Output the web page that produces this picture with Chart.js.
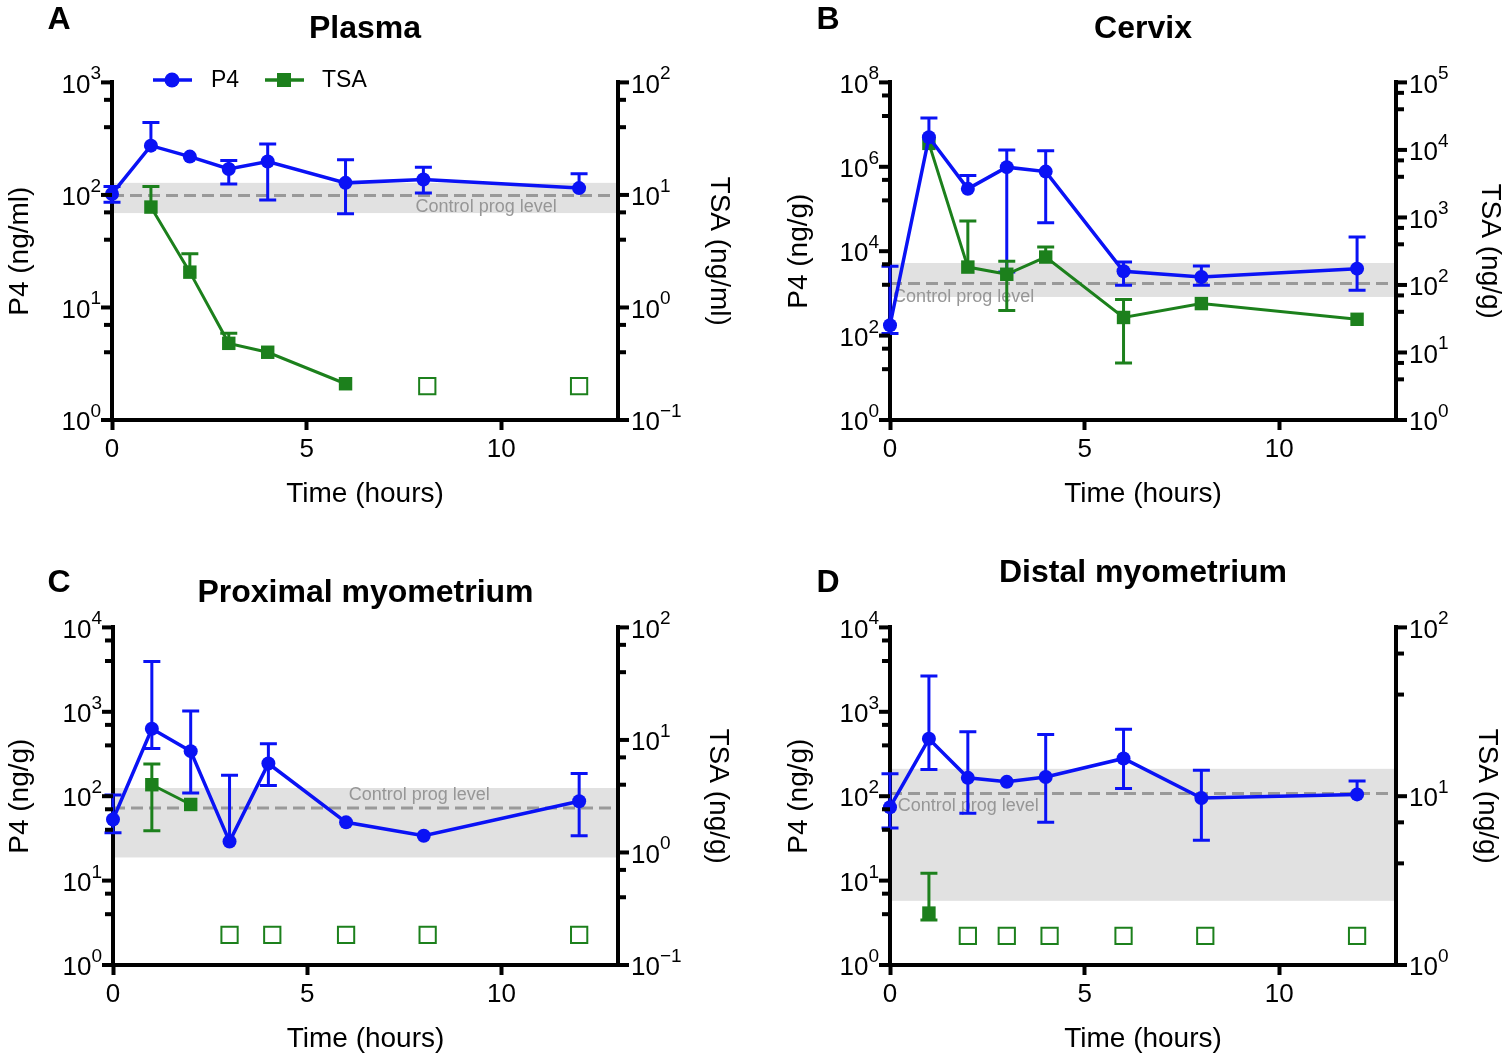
<!DOCTYPE html>
<html>
<head>
<meta charset="utf-8">
<script src="https://cdn.jsdelivr.net/npm/chart.js@4.4.1/dist/chart.umd.min.js"></script>
<style>
  body { margin: 0; background: #fff; width: 1508px; height: 1062px; position: relative; overflow: hidden; }
  canvas { position: absolute; }
</style>
</head>
<body>
<canvas id="panelA" width="754" height="531" style="left:0;top:0"></canvas>
<canvas id="panelB" width="754" height="531" style="left:754px;top:0"></canvas>
<canvas id="panelC" width="754" height="531" style="left:0;top:531px"></canvas>
<canvas id="panelD" width="754" height="531" style="left:754px;top:531px"></canvas>
<script>
// Time points (hours) for P4
const p4Hours = [0, 1, 2, 3, 4, 6, 8, 12];

// A - Plasma
const plasmaP4 = [102, 274, 219, 170, 198, 128, 137, 115];
const plasmaP4Hi = [119, 441, null, 202, 284, 205, 176, 154];
const plasmaP4Lo = [86, null, null, 125, 90, 68, 104, null];
const plasmaTsaHours = [1, 2, 3, 4, 6];
const plasmaTsa = [7.8, 2.06, 0.48, 0.40, 0.21];
const plasmaTsaHi = [11.9, 3.0, 0.59, null, null];
const plasmaTsaLo = [null, null, null, null, null];
const plasmaNdHours = [8.1, 12];
const plasmaNdLevel = 0.2;
const plasmaControl = [69, 99, 128]; // band low, level, band high
const plasmaLeftExp = [0, 1, 2, 3];
const plasmaRightExp = [-1, 0, 1, 2];

// B - Cervix
const cervixP4 = [176, 5.0e6, 3.0e5, 9.8e5, 7.7e5, 3340, 2450, 3860];
const cervixP4Hi = [4380, 1.44e7, 6.2e5, 2.5e6, 2.4e6, 5540, 4470, 21600];
const cervixP4Lo = [112, null, null, 3200, 47000, 1550, 1550, 1190];
const cervixTsaHours = [1, 2, 3, 4, 6, 8, 12];
const cervixTsa = [12500, 184, 144, 259, 33, 53, 31];
const cervixTsaHi = [null, 883, 224, 364, 61, null, null];
const cervixTsaLo = [null, null, 42, null, 7.0, null, null];
const cervixNdHours = [];
const cervixNdLevel = 1;
const cervixControl = [824, 1710, 5250];
const cervixLeftExp = [0, 2, 4, 6, 8];
const cervixRightExp = [0, 1, 2, 3, 4, 5];

// C - Proximal myometrium
const proxP4 = [53, 630, 342, 29, 244, 49, 34, 87];
const proxP4Hi = [103, 3940, 1023, 177, 418, null, null, 186];
const proxP4Lo = [37, 368, 109, null, 134, null, null, 34];
const proxTsaHours = [1, 2];
const proxTsa = [4.0, 2.67];
const proxTsaHi = [6.1, null];
const proxTsaLo = [1.56, null];
const proxNdHours = [3, 4.1, 6, 8.1, 12];
const proxNdLevel = 0.185;
const proxControl = [18.8, 72.6, 125];
const proxLeftExp = [0, 1, 2, 3, 4];
const proxRightExp = [-1, 0, 1, 2];

// D - Distal myometrium
const distP4 = [74, 479, 165, 148, 169, 280, 95, 105];
const distP4Hi = [184, 2660, 580, null, 540, 620, 203, 151];
const distP4Lo = [42, 207, 63, null, 49, 123, 30, null];
const distTsaHours = [1];
const distTsa = [2.03];
const distTsaHi = [3.5];
const distTsaLo = [1.85];
const distNdHours = [2, 3, 4.1, 6, 8.1, 12];
const distNdLevel = 1.49;
const distControl = [5.76, 108, 211];
const distLeftExp = [0, 1, 2, 3, 4];
const distRightExp = [0, 1, 2];

// Colours & fonts
const FONT = '"Liberation Sans", Arial, Helvetica, sans-serif';
const BLUE = 'rgb(10, 18, 245)';
const GREEN = 'rgb(28, 128, 28)';
const BAND = '#e1e1e1';
const DASH = '#999999';
const CTRL_TEXT = '#969696';

Chart.defaults.font.family = FONT;
Chart.defaults.color = '#000';

const toXY = (xs, ys) => xs.map((x, i) => ({ x: x, y: ys[i] }));
const supText = e => (e < 0 ? '\u2212' + Math.abs(e) : String(e));

// draw log axis ticks + "10^n" labels using the scale
function drawLogAxis(chart, scaleId, exps, side) {
    const ctx = chart.ctx;
    const s = chart.scales[scaleId];
    const x0 = side === 'left' ? chart.chartArea.left : chart.chartArea.right;
    const dir = side === 'left' ? -1 : 1;
    const step = exps[1] - exps[0];

    const tick = (y, len) => {
        ctx.beginPath();
        ctx.moveTo(x0, y);
        ctx.lineTo(x0 + dir * len, y);
        ctx.stroke();
    };

    ctx.save();
    ctx.strokeStyle = '#000';
    ctx.lineWidth = 4;
    ctx.fillStyle = '#000';
    exps.forEach((e, k) => {
        const y = s.getPixelForValue(Math.pow(10, e));
        tick(y, 11);
        if (k < exps.length - 1) {
            [Math.log10(4), Math.log10(7)].forEach(f => {
                tick(s.getPixelForValue(Math.pow(10, e + step * f)), 8);
            });
        }
        // label
        ctx.font = '26px ' + FONT;
        const wBase = ctx.measureText('10').width;
        ctx.font = '19px ' + FONT;
        const wSup = ctx.measureText(supText(e)).width;
        const xStart = side === 'left' ? x0 - 11 - wBase - wSup : x0 + 13;
        ctx.textAlign = 'left';
        ctx.textBaseline = 'middle';
        ctx.font = '26px ' + FONT;
        ctx.fillText('10', xStart, y + 3);
        ctx.textBaseline = 'alphabetic';
        ctx.font = '19px ' + FONT;
        ctx.fillText(supText(e), xStart + wBase, y - 3);
    });
    ctx.restore();
}

function makePanel(id, cfg) {
    const decor = {
        id: 'decor_' + id,
        beforeDraw(chart) {
            const ctx = chart.ctx;
            const { left, right } = chart.chartArea;
            const y = chart.scales.y;
            const yHi = y.getPixelForValue(cfg.control[2]);
            const yLo = y.getPixelForValue(cfg.control[0]);
            const yMid = y.getPixelForValue(cfg.control[1]);
            ctx.save();
            ctx.fillStyle = BAND;
            ctx.fillRect(left, yHi, right - left, yLo - yHi);
            ctx.strokeStyle = DASH;
            ctx.lineWidth = 3;
            ctx.setLineDash([12, 6]);
            ctx.beginPath();
            ctx.moveTo(left, yMid);
            ctx.lineTo(right, yMid);
            ctx.stroke();
            ctx.setLineDash([]);
            ctx.fillStyle = CTRL_TEXT;
            ctx.font = '18px ' + FONT;
            ctx.textAlign = 'left';
            ctx.textBaseline = 'middle';
            ctx.fillText('Control prog level', chart.scales.x.getPixelForValue(cfg.ctrlLabelAt), yMid + cfg.ctrlLabelDy);
            ctx.restore();
        },
        beforeDatasetsDraw(chart) {
            const ctx = chart.ctx;
            chart.data.datasets.forEach((ds, di) => {
                if (!ds.errHi) return;
                const ys = chart.scales[ds.yAxisID];
                const meta = chart.getDatasetMeta(di);
                ctx.save();
                ctx.strokeStyle = ds.borderColor;
                ctx.lineWidth = 3;
                meta.data.forEach((pt, i) => {
                    [ds.errHi[i], ds.errLo[i]].forEach(v => {
                        if (v == null) return;
                        const yv = ys.getPixelForValue(v);
                        ctx.beginPath();
                        ctx.moveTo(pt.x, pt.y);
                        ctx.lineTo(pt.x, yv);
                        ctx.moveTo(pt.x - 8.5, yv);
                        ctx.lineTo(pt.x + 8.5, yv);
                        ctx.stroke();
                    });
                });
                ctx.restore();
            });
        },
        afterDraw(chart) {
            const ctx = chart.ctx;
            drawLogAxis(chart, 'y', cfg.leftExp, 'left');
            drawLogAxis(chart, 'y2', cfg.rightExp, 'right');

            // panel letter
            ctx.save();
            ctx.fillStyle = '#000';
            ctx.font = 'bold 32px ' + FONT;
            ctx.textAlign = 'center';
            ctx.textBaseline = 'middle';
            ctx.fillText(cfg.letter, cfg.letterPos[0], cfg.letterPos[1]);

            // legend (panel A only)
            if (cfg.legend) {
                const ly = 80;
                ctx.lineWidth = 3.5;
                ctx.strokeStyle = BLUE;
                ctx.beginPath(); ctx.moveTo(153, ly); ctx.lineTo(192, ly); ctx.stroke();
                ctx.fillStyle = BLUE;
                ctx.beginPath(); ctx.arc(172, ly, 7.5, 0, Math.PI * 2); ctx.fill();
                ctx.strokeStyle = GREEN;
                ctx.beginPath(); ctx.moveTo(265, ly); ctx.lineTo(304, ly); ctx.stroke();
                ctx.fillStyle = GREEN;
                ctx.fillRect(284 - 7, ly - 7, 14, 14);
                ctx.fillStyle = '#000';
                ctx.font = '23px ' + FONT;
                ctx.textAlign = 'left';
                ctx.fillText('P4', 211, ly + 1);
                ctx.fillText('TSA', 322, ly + 1);
            }
            ctx.restore();
        }
    };

    return new Chart(document.getElementById(id), {
        type: 'line',
        data: {
            datasets: [
                {
                    label: 'P4',
                    data: toXY(p4Hours, cfg.p4),
                    errHi: cfg.p4Hi,
                    errLo: cfg.p4Lo,
                    yAxisID: 'y',
                    borderColor: BLUE,
                    backgroundColor: BLUE,
                    borderWidth: 3.5,
                    tension: 0,
                    pointStyle: 'circle',
                    pointRadius: 7,
                    pointBorderWidth: 0,
                    clip: false
                },
                {
                    label: 'TSA',
                    data: toXY(cfg.tsaHours, cfg.tsa),
                    errHi: cfg.tsaHi,
                    errLo: cfg.tsaLo,
                    yAxisID: 'y2',
                    borderColor: GREEN,
                    backgroundColor: GREEN,
                    borderWidth: 3,
                    tension: 0,
                    pointStyle: 'rect',
                    pointRadius: 9.5,
                    pointBorderWidth: 0,
                    clip: false
                },
                {
                    label: 'TSA below detection',
                    data: cfg.ndHours.map(h => ({ x: h, y: cfg.ndLevel })),
                    yAxisID: 'y2',
                    showLine: false,
                    borderColor: GREEN,
                    backgroundColor: 'rgba(255,255,255,0)',
                    pointStyle: 'rect',
                    pointRadius: 11.5,
                    pointBorderWidth: 2,
                    clip: false
                }
            ]
        },
        options: {
            responsive: false,
            animation: false,
            events: [],
            layout: { padding: 0 },
            plugins: {
                legend: { display: false },
                tooltip: { enabled: false },
                title: {
                    display: true,
                    text: cfg.title,
                    fullSize: false,
                    color: '#000',
                    font: { size: 32, weight: 'bold' },
                    padding: { top: cfg.titlePad[0], bottom: cfg.titlePad[1] }
                }
            },
            scales: {
                x: {
                    type: 'linear',
                    min: 0,
                    max: 13,
                    ticks: { stepSize: 5, includeBounds: false, color: '#000', font: { size: 26 }, padding: 4, maxRotation: 0 },
                    grid: { display: true, drawOnChartArea: false, tickLength: 10, tickWidth: 4, tickColor: '#000' },
                    border: { width: 4, color: '#000' },
                    title: { display: true, text: 'Time (hours)', color: '#000', font: { size: 28 }, padding: { top: 0, bottom: cfg.xTitlePad } },
                    afterFit: s => { s.height = cfg.xH; }
                },
                y: {
                    type: 'logarithmic',
                    position: 'left',
                    min: Math.pow(10, cfg.leftExp[0]),
                    max: Math.pow(10, cfg.leftExp[cfg.leftExp.length - 1]),
                    ticks: { display: false },
                    grid: { display: false },
                    border: { width: 4, color: '#000' },
                    title: { display: true, text: cfg.yTitle, color: '#000', font: { size: 28 }, padding: { top: cfg.yTitlePad, bottom: 0 } },
                    afterFit: s => { s.width = cfg.leftW; }
                },
                y2: {
                    type: 'logarithmic',
                    position: 'right',
                    min: Math.pow(10, cfg.rightExp[0]),
                    max: Math.pow(10, cfg.rightExp[cfg.rightExp.length - 1]),
                    ticks: { display: false },
                    grid: { display: false },
                    border: { width: 4, color: '#000' },
                    title: { display: true, text: cfg.y2Title, color: '#000', font: { size: 28 }, padding: { top: cfg.y2TitlePad, bottom: 0 } },
                    afterFit: s => { s.width = cfg.rightW; }
                }
            }
        },
        plugins: [decor]
    });
}

makePanel('panelA', {
    title: 'Plasma', titlePad: [10, 34], letter: 'A', letterPos: [59, 20], legend: true,
    yTitle: 'P4 (ng/ml)', y2Title: 'TSA (ng/ml)', yTitlePad: 3, y2TitlePad: 18,
    leftW: 112, rightW: 136, xH: 111, xTitlePad: 20,
    leftExp: plasmaLeftExp, rightExp: plasmaRightExp,
    p4: plasmaP4, p4Hi: plasmaP4Hi, p4Lo: plasmaP4Lo,
    tsaHours: plasmaTsaHours, tsa: plasmaTsa, tsaHi: plasmaTsaHi, tsaLo: plasmaTsaLo,
    ndHours: plasmaNdHours, ndLevel: plasmaNdLevel,
    control: plasmaControl, ctrlLabelAt: 7.8, ctrlLabelDy: 12
});

makePanel('panelB', {
    title: 'Cervix', titlePad: [10, 34], letter: 'B', letterPos: [74, 20], legend: false,
    yTitle: 'P4 (ng/g)', y2Title: 'TSA (ng/g)', yTitlePad: 28, y2TitlePad: 1,
    leftW: 136, rightW: 112, xH: 111, xTitlePad: 20,
    leftExp: cervixLeftExp, rightExp: cervixRightExp,
    p4: cervixP4, p4Hi: cervixP4Hi, p4Lo: cervixP4Lo,
    tsaHours: cervixTsaHours, tsa: cervixTsa, tsaHi: cervixTsaHi, tsaLo: cervixTsaLo,
    ndHours: cervixNdHours, ndLevel: cervixNdLevel,
    control: cervixControl, ctrlLabelAt: 0.08, ctrlLabelDy: 13
});

makePanel('panelC', {
    title: 'Proximal myometrium', titlePad: [43, 15], letter: 'C', letterPos: [59, 52], legend: false,
    yTitle: 'P4 (ng/g)', y2Title: 'TSA (ng/g)', yTitlePad: 3, y2TitlePad: 19,
    leftW: 113, rightW: 136, xH: 97, xTitlePad: 6,
    leftExp: proxLeftExp, rightExp: proxRightExp,
    p4: proxP4, p4Hi: proxP4Hi, p4Lo: proxP4Lo,
    tsaHours: proxTsaHours, tsa: proxTsa, tsaHi: proxTsaHi, tsaLo: proxTsaLo,
    ndHours: proxNdHours, ndLevel: proxNdLevel,
    control: proxControl, ctrlLabelAt: 6.07, ctrlLabelDy: -13
});

makePanel('panelD', {
    title: 'Distal myometrium', titlePad: [23, 35], letter: 'D', letterPos: [74, 52], legend: false,
    yTitle: 'P4 (ng/g)', y2Title: 'TSA (ng/g)', yTitlePad: 28, y2TitlePad: 4,
    leftW: 136, rightW: 112, xH: 97, xTitlePad: 6,
    leftExp: distLeftExp, rightExp: distRightExp,
    p4: distP4, p4Hi: distP4Hi, p4Lo: distP4Lo,
    tsaHours: distTsaHours, tsa: distTsa, tsaHi: distTsaHi, tsaLo: distTsaLo,
    ndHours: distNdHours, ndLevel: distNdLevel,
    control: distControl, ctrlLabelAt: 0.2, ctrlLabelDy: 13
});
</script>
</body>
</html>
